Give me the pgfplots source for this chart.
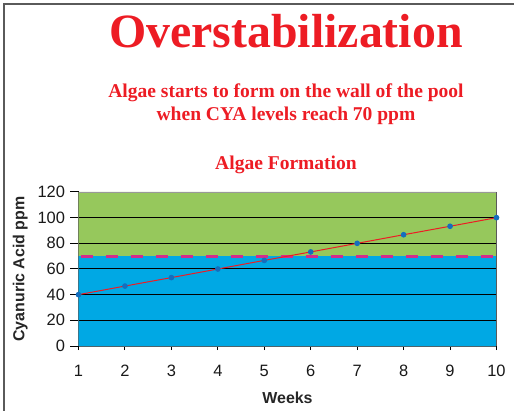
\documentclass[border=0pt]{standalone}
\usepackage{pgfplots}
\pgfplotsset{compat=1.18}
\usepackage{fontspec}
\setmainfont{Liberation Serif}
\setsansfont{Liberation Sans}
\definecolor{cred}{RGB}{237,28,36}
\definecolor{cgreen}{RGB}{150,200,92}
\definecolor{cblue}{RGB}{0,168,228}
\definecolor{cmag}{RGB}{210,45,140}
\definecolor{cpt}{RGB}{20,110,190}
\definecolor{cframe}{RGB}{90,90,90}
\begin{document}
\begin{tikzpicture}
\path[use as bounding box] (0bp,0bp) rectangle (514bp,411bp);
\draw[cframe,line width=2bp] (4bp,0bp) -- (4bp,407bp) -- (514bp,407bp);
\node[anchor=base,text=cred,font=\fontsize{48}{48}\selectfont\bfseries] at (286bp,363bp) {Overstabilization};
\node[anchor=base,text=cred,font=\fontsize{19.6}{19.6}\selectfont\bfseries] at (286bp,313bp) {Algae starts to form on the wall of the pool};
\node[anchor=base,text=cred,font=\fontsize{19.6}{19.6}\selectfont\bfseries] at (286bp,290bp) {when CYA levels reach 70 ppm};
\node[anchor=base,text=cred,font=\fontsize{19.6}{19.6}\selectfont\bfseries] at (286bp,241bp) {Algae Formation};
\begin{axis}[
  at={(78.5bp,65bp)}, anchor=south west,
  scale only axis, width=418bp, height=154bp,
  xmin=1, xmax=10, ymin=0, ymax=120,
  xtick={1,...,10}, ytick={0,20,...,120},
  axis line style={draw=cframe, line width=1bp},
  axis x line*=bottom, axis y line*=left,
  x axis line style={-}, y axis line style={-},
  xtick pos=bottom, ytick pos=left,
  xtick align=center, ytick align=outside,
  xtick style={black, line width=1bp},
  ytick style={black, line width=1bp},
  major tick length=8bp,
  /pgf/number format/assume math mode=true,
  tick label style={font=\fontsize{16.5}{16.5}\selectfont\sffamily, text=black!90},
  xticklabel style={anchor=base, yshift=-26bp},
  yticklabel style={anchor=east, xshift=-2bp},
  xlabel={\bfseries Weeks},
  ylabel={\bfseries Cyanuric Acid ppm},
  label style={font=\fontsize{16}{16}\selectfont\sffamily, text=black!85},
  xlabel style={at={(axis description cs:0.5,0)}, anchor=base, yshift=-57bp},
  ylabel style={at={(axis description cs:0,0.5)}, anchor=base, yshift=54bp},
  clip=false,
]
\addplot[fill=cgreen, draw=none] coordinates {(1,70) (10,70) (10,120) (1,120) (1,70)};
\addplot[fill=cblue, draw=none] coordinates {(1,0) (10,0) (10,70) (1,70) (1,0)};
\addplot[black, line width=1bp] coordinates {(1,20) (10,20)};
\addplot[black, line width=1bp] coordinates {(1,40) (10,40)};
\addplot[black, line width=1bp] coordinates {(1,60) (10,60)};
\addplot[black, line width=1bp] coordinates {(1,80) (10,80)};
\addplot[black, line width=1bp] coordinates {(1,100) (10,100)};
\addplot[black!40, line width=0.6bp] coordinates {(1,120) (10,120)};
\addplot[cframe, line width=1.2bp] coordinates {(10,0) (10,120)};
\addplot[cmag, line width=2.8bp, dash pattern=on 12bp off 13bp, dash phase=-2bp] coordinates {(1,69.5) (10,69.5)};
\addplot[cred, line width=1bp, mark=*, mark size=2.3bp, mark options={draw=cpt, fill=cpt}] coordinates {
(1,40) (2,46.7) (3,53.3) (4,60) (5,66.7) (6,73.3) (7,80) (8,86.7) (9,93.3) (10,100)};
\end{axis}
\end{tikzpicture}
\end{document}
